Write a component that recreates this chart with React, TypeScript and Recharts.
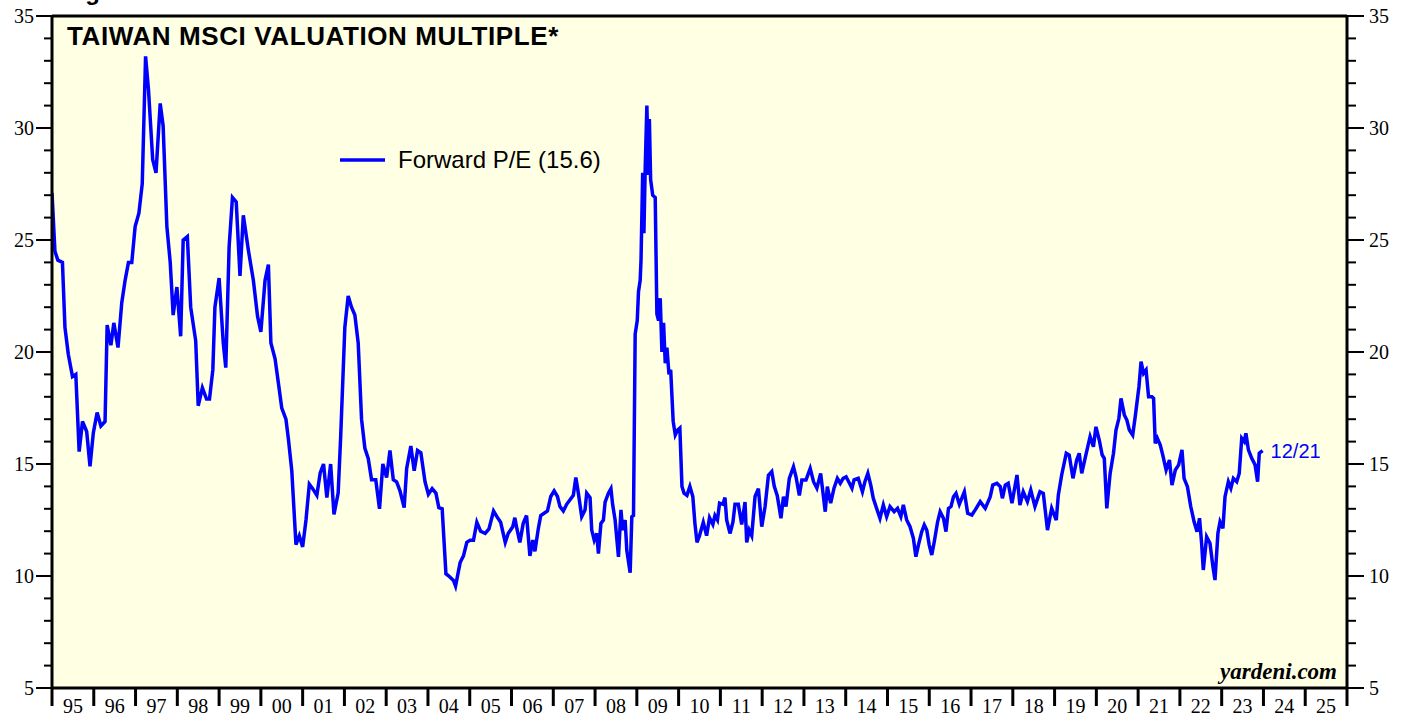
import React from 'react';
import { LineChart, Line, XAxis, YAxis, CartesianGrid, ReferenceLine, ReferenceDot } from 'recharts';

// Taiwan MSCI forward P/E (decimal year, value)
const dates = [
  1995.00, 1995.07, 1995.14, 1995.25, 1995.31, 1995.39, 1995.49, 1995.57, 1995.65, 1995.73, 1995.83, 1995.91, 1995.99,
  1996.08, 1996.17, 1996.27, 1996.32, 1996.41, 1996.48, 1996.58, 1996.67, 1996.75, 1996.83, 1996.91, 1996.99,
  1997.08, 1997.16, 1997.24, 1997.31, 1997.41, 1997.49, 1997.59, 1997.66, 1997.75, 1997.83, 1997.90, 1997.99,
  1998.08, 1998.14, 1998.24, 1998.32, 1998.44, 1998.50, 1998.60, 1998.70, 1998.77, 1998.85, 1998.90,
  1999.00, 1999.10, 1999.16, 1999.24, 1999.32, 1999.41, 1999.50, 1999.58, 1999.70, 1999.82, 1999.92,
  2000.00, 2000.10, 2000.18, 2000.24, 2000.34, 2000.42, 2000.50, 2000.60, 2000.66, 2000.74, 2000.84, 2000.92,
  2001.00, 2001.08, 2001.16, 2001.24, 2001.34, 2001.42, 2001.50, 2001.58, 2001.67, 2001.75, 2001.85, 2001.91,
  2002.01, 2002.09, 2002.17, 2002.25, 2002.33, 2002.41, 2002.49, 2002.57, 2002.65, 2002.75, 2002.84, 2002.92,
  2003.01, 2003.09, 2003.17, 2003.25, 2003.33, 2003.43, 2003.49, 2003.59, 2003.67, 2003.75, 2003.83, 2003.93,
  2004.01, 2004.10, 2004.19, 2004.26, 2004.34, 2004.43, 2004.50, 2004.61, 2004.66, 2004.77, 2004.85, 2004.93,
  2005.01, 2005.09, 2005.17, 2005.26, 2005.37, 2005.46, 2005.57, 2005.65, 2005.74, 2005.85, 2005.92,
  2006.03, 2006.08, 2006.13, 2006.20, 2006.28, 2006.36, 2006.44, 2006.51, 2006.56, 2006.64, 2006.70, 2006.78, 2006.86, 2006.94,
  2007.02, 2007.10, 2007.16, 2007.24, 2007.32, 2007.48, 2007.54, 2007.60, 2007.68, 2007.76, 2007.80, 2007.88, 2007.92, 2007.98,
  2008.04, 2008.08, 2008.14, 2008.20, 2008.24, 2008.32, 2008.38, 2008.42, 2008.48, 2008.56, 2008.62, 2008.66, 2008.72, 2008.76, 2008.84, 2008.88, 2008.92, 2008.96,
  2009.01, 2009.04, 2009.08, 2009.10, 2009.14, 2009.17, 2009.20, 2009.24, 2009.28, 2009.30, 2009.33, 2009.38, 2009.44, 2009.48, 2009.52, 2009.56, 2009.60, 2009.64, 2009.68, 2009.72, 2009.77, 2009.81, 2009.87, 2009.92, 2009.97,
  2010.03, 2010.08, 2010.13, 2010.20, 2010.27, 2010.34, 2010.39, 2010.44, 2010.50, 2010.59, 2010.67, 2010.74, 2010.82, 2010.87, 2010.93, 2010.98,
  2011.06, 2011.11, 2011.15, 2011.23, 2011.30, 2011.35, 2011.43, 2011.51, 2011.59, 2011.63, 2011.69, 2011.75, 2011.83, 2011.91, 2011.99,
  2012.07, 2012.15, 2012.23, 2012.29, 2012.36, 2012.45, 2012.51, 2012.57, 2012.65, 2012.75, 2012.81, 2012.89, 2012.95,
  2013.05, 2013.15, 2013.23, 2013.31, 2013.40, 2013.51, 2013.56, 2013.64, 2013.72, 2013.80, 2013.87, 2013.94,
  2014.01, 2014.09, 2014.15, 2014.20, 2014.30, 2014.40, 2014.46, 2014.53, 2014.60, 2014.66, 2014.74, 2014.82, 2014.90, 2014.98,
  2015.06, 2015.16, 2015.24, 2015.32, 2015.38, 2015.46, 2015.54, 2015.62, 2015.68, 2015.74, 2015.82, 2015.88, 2015.94,
  2016.00, 2016.06, 2016.12, 2016.20, 2016.26, 2016.34, 2016.40, 2016.46, 2016.52, 2016.58, 2016.64, 2016.72, 2016.84, 2016.92,
  2017.02, 2017.10, 2017.22, 2017.34, 2017.46, 2017.52, 2017.62, 2017.70, 2017.75, 2017.82, 2017.89, 2017.98,
  2018.10, 2018.17, 2018.25, 2018.35, 2018.43, 2018.53, 2018.65, 2018.73, 2018.83, 2018.93,
  2019.04, 2019.09, 2019.17, 2019.28, 2019.35, 2019.44, 2019.53, 2019.59, 2019.65, 2019.73, 2019.85, 2019.93, 2019.99,
  2020.07, 2020.14, 2020.19, 2020.25, 2020.33, 2020.41, 2020.47, 2020.54, 2020.59, 2020.67, 2020.73, 2020.79, 2020.87, 2020.93, 2020.98,
  2021.02, 2021.07, 2021.13, 2021.19, 2021.25, 2021.33, 2021.37, 2021.41, 2021.46, 2021.53, 2021.59, 2021.67, 2021.75, 2021.81, 2021.89, 2021.97,
  2022.05, 2022.10, 2022.18, 2022.26, 2022.34, 2022.41, 2022.47, 2022.52, 2022.56, 2022.64, 2022.72, 2022.79, 2022.84, 2022.91, 2022.96,
  2023.03, 2023.08, 2023.16, 2023.22, 2023.28, 2023.36, 2023.42, 2023.48, 2023.54, 2023.58, 2023.64, 2023.72, 2023.80, 2023.86, 2023.90, 2023.98,
];

const forwardPE = [
  27.1, 24.5, 24.1, 24.0, 21.1, 19.9, 18.9, 19.0, 15.55, 16.9, 16.45, 14.9, 16.4,
  17.3, 16.7, 16.9, 21.2, 20.3, 21.3, 20.2, 22.2, 23.2, 24.0, 24.0, 25.6,
  26.2, 27.5, 33.2, 31.7, 28.6, 28.0, 31.1, 30.1, 25.6, 24.0, 21.65, 22.9,
  20.7, 25.0, 25.15, 22.0, 20.5, 17.6, 18.4, 17.9, 17.9, 19.2, 22.0,
  23.3, 20.4, 19.3, 24.7, 26.9, 26.7, 23.4, 26.1, 24.55, 23.2, 21.6,
  20.9, 23.2, 23.9, 20.4, 19.7, 18.6, 17.5, 17.0, 16.1, 14.7, 11.4, 11.8,
  11.3, 12.5, 14.1, 13.9, 13.6, 14.6, 15.0, 13.5, 15.0, 12.75, 13.7, 16.2,
  21.1, 22.5, 22.0, 21.65, 20.4, 17.0, 15.7, 15.25, 14.3, 14.3, 13.0, 15.0,
  14.4, 15.6, 14.3, 14.2, 13.8, 13.05, 14.8, 15.8, 14.7, 15.6, 15.5, 14.2,
  13.65, 13.9, 13.7, 13.05, 13.0, 10.1, 10.0, 9.8, 9.55, 10.6, 10.9, 11.5,
  11.6, 11.6, 12.4, 12.0, 11.9, 12.1, 12.9, 12.65, 12.4, 11.5, 11.9,
  12.2, 12.6, 12.1, 11.5, 12.35, 12.7, 10.9, 11.6, 11.1, 12.1, 12.7, 12.8, 12.9, 13.55,
  13.8, 13.55, 13.1, 12.9, 13.2, 13.6, 14.4, 13.7, 12.65, 12.95, 13.7, 13.5, 12.05, 11.6,
  11.9, 11.0, 12.35, 12.5, 13.3, 13.7, 13.9, 13.2, 12.5, 10.85, 12.95, 12.05, 12.5, 11.15, 10.15, 12.65, 12.7, 20.8,
  21.4, 22.7, 23.2, 24.1, 28.0, 25.3, 28.2, 31.0, 27.9, 30.4, 27.7, 27.0, 26.9, 21.7, 21.4, 22.4, 20.0, 21.3, 19.5, 20.2, 19.0, 19.2, 16.9, 16.3, 16.5,
  16.6, 14.0, 13.7, 13.6, 14.0, 13.55, 12.35, 11.5, 11.8, 12.4, 11.8, 12.6, 12.3, 12.7, 12.5, 13.25,
  13.2, 13.5, 12.5, 11.9, 12.4, 13.2, 13.2, 12.3, 13.3, 11.5, 12.05, 11.8, 13.55, 13.9, 12.2,
  13.1, 14.5, 14.66, 14.0, 13.6, 12.58, 13.54, 13.1, 14.36, 14.88, 14.43, 13.6, 14.29,
  14.29, 14.8, 14.21, 13.92, 14.58, 12.87, 13.99, 13.25, 13.92, 14.36, 14.14, 14.36,
  14.43, 14.14, 13.92, 14.29, 14.36, 13.76, 14.21, 14.58, 14.06, 13.47, 13.02, 12.58, 13.17, 12.65,
  13.1, 12.87, 13.02, 12.65, 13.17, 12.5, 12.2, 11.68, 10.86, 11.38, 11.98, 12.28, 12.05,
  11.38, 10.94, 11.53, 12.42, 12.87, 12.58, 11.98, 13.02, 13.1, 13.54, 13.69, 13.2, 13.76, 12.8,
  12.72, 12.95, 13.32, 13.02, 13.54, 14.06, 14.14, 13.99, 13.47, 14.06, 14.14, 13.25,
  14.51, 13.17, 13.76, 13.32, 13.84, 13.1, 13.76, 13.69, 12.05, 13.02,
  12.5, 13.62, 14.51, 15.48, 15.4, 14.36, 15.18, 15.48, 14.58, 15.25, 16.22, 15.77, 16.66,
  16.07, 15.4, 15.25, 13.02, 14.58, 15.48, 16.52, 17.04, 17.93, 17.19, 16.96, 16.52, 16.29, 17.11, 17.86,
  18.45, 19.57, 19.05, 19.2, 18.0, 18.0, 17.93, 15.92, 16.15, 15.85, 15.4, 14.73, 15.18, 14.06, 14.73, 14.96,
  15.63, 14.36, 13.99, 13.1, 12.42, 11.98, 12.58, 11.46, 10.27, 11.75, 11.46, 10.42, 9.82, 11.91, 12.42,
  12.13, 13.54, 14.21, 13.92, 14.36, 14.21, 14.58, 16.15, 16.0, 16.37, 15.63, 15.25, 14.96, 14.21, 15.48, 15.6,
];

const yearLabels = [
  '95', '96', '97', '98', '99', '00', '01', '02', '03', '04', '05', '06', '07', '08', '09', '10',
  '11', '12', '13', '14', '15', '16', '17', '18', '19', '20', '21', '22', '23', '24', '25',
];
const firstYear = 1995;
const yTicks = [5, 6, 7, 8, 9, 10, 11, 12, 13, 14, 15, 16, 17, 18, 19, 20, 21, 22, 23, 24, 25, 26, 27, 28, 29, 30, 31, 32, 33, 34, 35];
const yMajor = [5, 10, 15, 20, 25, 30, 35];
const lastLabel = '12/21';
const legendLabel = 'Forward P/E (15.6)';

const data = dates.map((t, i) => ({ t, pe: forwardPE[i] }));
const last = data[data.length - 1];

// year edges get a tick mark, mid-years carry the label
const xTicks: number[] = [];
yearLabels.forEach((_, i) => {
  xTicks.push(firstYear + i, firstYear + i + 0.5);
});
xTicks.push(firstYear + yearLabels.length);

const SERIF = '"Liberation Serif", "Times New Roman", serif';
const SANS = '"Liberation Sans", Arial, sans-serif';
const BLUE = '#0000FF';

const LeftTick = ({ x, y, payload }: any) => {
  const major = yMajor.includes(payload.value);
  return (
    <g>
      <line x1={x - (major ? 16 : 8)} x2={x} y1={y} y2={y} stroke="#000" strokeWidth={2} />
      {major && (
        <text x={x - 18} y={y} dy="0.35em" textAnchor="end" fontFamily={SERIF} fontSize={20} fill="#000">
          {payload.value}
        </text>
      )}
    </g>
  );
};

const RightTick = ({ x, y, payload }: any) => {
  const major = yMajor.includes(payload.value);
  return (
    <g>
      <line x1={x} x2={x + (major ? 17 : 9)} y1={y} y2={y} stroke="#000" strokeWidth={2} />
      {major && (
        <text x={x + 22} y={y} dy="0.35em" textAnchor="start" fontFamily={SERIF} fontSize={20} fill="#000">
          {payload.value}
        </text>
      )}
    </g>
  );
};

const BottomTick = ({ x, y, payload }: any) => {
  const v = payload.value;
  if (Number.isInteger(v)) {
    return <line x1={x} x2={x} y1={y} y2={y + 18} stroke="#000" strokeWidth={3} />;
  }
  return (
    <text x={x} y={y + 25} textAnchor="middle" fontFamily={SERIF} fontSize={20} fill="#000">
      {yearLabels[Math.floor(v) - firstYear]}
    </text>
  );
};

export default function App() {
  return (
    <div style={{ position: 'absolute', left: 0, top: 0, width: 1407, height: 717, overflow: 'hidden', background: '#fff' }}>
      <LineChart width={1407} height={717} data={data} margin={{ top: 16, right: 0, bottom: 0, left: 0 }}>
        <CartesianGrid horizontal={false} vertical={false} fill="#FFFFE4" />
        <XAxis
          dataKey="t"
          type="number"
          domain={[firstYear, firstYear + yearLabels.length]}
          ticks={xTicks}
          interval={0}
          height={29}
          tickSize={0}
          tickMargin={0}
          tick={<BottomTick />}
          axisLine={{ stroke: '#000', strokeWidth: 3 }}
          tickLine={false}
          allowDataOverflow
        />
        <YAxis
          yAxisId="left"
          orientation="left"
          type="number"
          domain={[5, 35]}
          ticks={yTicks}
          interval={0}
          width={52}
          tickSize={0}
          tickMargin={0}
          tick={<LeftTick />}
          axisLine={{ stroke: '#000', strokeWidth: 3 }}
          tickLine={false}
          allowDataOverflow
        />
        <YAxis
          yAxisId="right"
          orientation="right"
          type="number"
          domain={[5, 35]}
          ticks={yTicks}
          interval={0}
          width={60}
          tickSize={0}
          tickMargin={0}
          tick={<RightTick />}
          axisLine={{ stroke: '#000', strokeWidth: 3 }}
          tickLine={false}
          allowDataOverflow
        />
        <ReferenceLine yAxisId="left" y={35} stroke="#000" strokeWidth={3} />
        <Line
          yAxisId="left"
          type="linear"
          dataKey="pe"
          stroke={BLUE}
          strokeWidth={3.5}
          dot={false}
          isAnimationActive={false}
        />
        <ReferenceDot
          yAxisId="left"
          x={last.t}
          y={last.pe}
          r={1}
          fill="none"
          stroke="none"
          label={{ value: lastLabel, position: 'right', offset: 7, fill: BLUE, fontSize: 20, fontFamily: SANS }}
        />
      </LineChart>
      <svg width={1407} height={717} style={{ position: 'absolute', left: 0, top: 0, pointerEvents: 'none' }}>
        <text x={64} y={0} fontFamily={SANS} fontWeight="bold" fontSize={24} fill="#000">Figure 8.</text>
        <text x={67} y={45} fontFamily={SANS} fontWeight="bold" fontSize={26} letterSpacing={0.6} fill="#000">
          TAIWAN MSCI VALUATION MULTIPLE*
        </text>
        <line x1={340} x2={385} y1={160} y2={160} stroke={BLUE} strokeWidth={3.5} />
        <text x={398} y={168} fontFamily={SANS} fontSize={24} fill="#000">{legendLabel}</text>
        <text x={1337} y={679} textAnchor="end" fontFamily={SERIF} fontWeight="bold" fontStyle="italic" fontSize={23} fill="#000">
          yardeni.com
        </text>
      </svg>
    </div>
  );
}
